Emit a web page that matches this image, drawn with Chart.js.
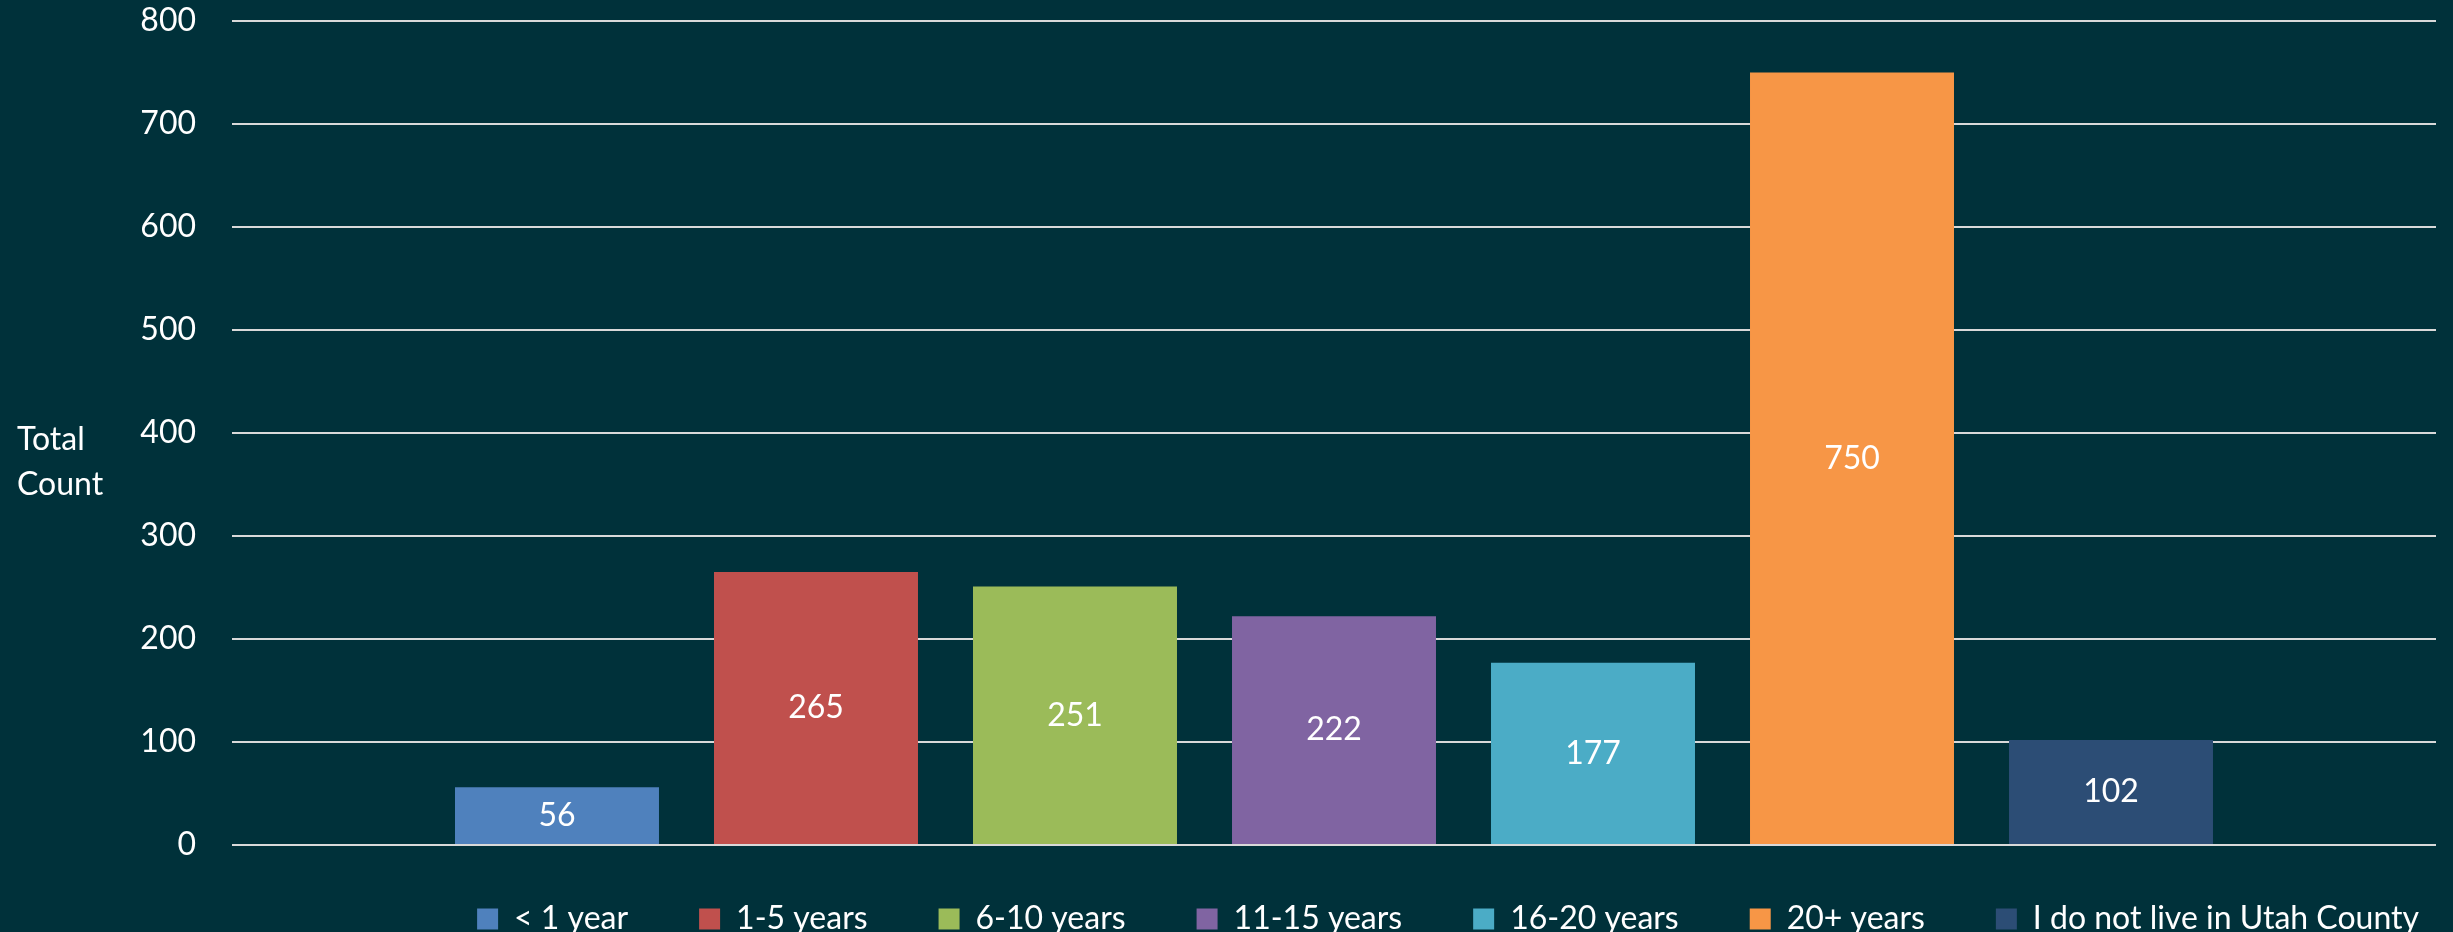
<!DOCTYPE html>
<html>
<head>
<meta charset="utf-8">
<script src="https://cdn.jsdelivr.net/npm/chart.js@4"></script>
<style>
  html, body { margin: 0; padding: 0; background: #00313a; }
  #caja { width: 2453px; height: 932px; position: relative; }
</style>
</head>
<body>
<div id="caja"><canvas id="barras"></canvas></div>
<script>
// Datos del grafico
const categorias = ['< 1 year', '1-5 years', '6-10 years', '11-15 years', '16-20 years', '20+ years', 'I do not live in Utah County'];
const valores = [56, 265, 251, 222, 177, 750, 102];
const colores = ['#4f81bd', '#c0504d', '#9bbb59', '#8064a2', '#4bacc6', '#f79646', '#2c4d75'];
const marcasY = [0, 100, 200, 300, 400, 500, 600, 700, 800];
const tituloY = ['Total', 'Count'];

const fuente = { family: 'Lato', size: 32 };

// Etiquetas de valor en el centro de cada barra
const etiquetasBarras = {
  id: 'etiquetasBarras',
  afterDatasetsDraw(chart) {
    const ctx = chart.ctx;
    ctx.save();
    ctx.fillStyle = '#ffffff';
    ctx.font = '32px Lato';
    ctx.textAlign = 'center';
    ctx.textBaseline = 'middle';
    chart.data.datasets.forEach((ds, i) => {
      chart.getDatasetMeta(i).data.forEach((barra, j) => {
        ctx.fillText(ds.data[j], barra.x, (barra.y + barra.base) / 2);
      });
    });
    ctx.restore();
  }
};

// Titulo horizontal del eje Y, a la izquierda
const tituloEje = {
  id: 'tituloEje',
  afterDraw(chart) {
    const ctx = chart.ctx;
    ctx.save();
    ctx.fillStyle = '#ffffff';
    ctx.font = '32px Lato';
    ctx.textAlign = 'left';
    ctx.textBaseline = 'alphabetic';
    ctx.fillText(tituloY[0], 17, 450);
    ctx.fillText(tituloY[1], 17, 495);
    ctx.restore();
  }
};

// Mover la leyenda a su sitio (la parte de abajo se queda, si no la recorta)
const ajusteLeyenda = {
  id: 'ajusteLeyenda',
  afterLayout(chart) {
    const l = chart.legend;
    l.top -= 13;
    l.left += 54; l.right += 54;
  }
};

new Chart(document.getElementById('barras'), {
  type: 'bar',
  data: {
    labels: [''],
    datasets: categorias.map((c, i) => ({
      label: c,
      data: [valores[i]],
      backgroundColor: colores[i],
      categoryPercentage: 0.8226,
      barPercentage: 0.7876
    }))
  },
  options: {
    responsive: true,
    maintainAspectRatio: false,
    animation: false,
    layout: { padding: { left: 0, right: 17, top: 21, bottom: 0 } },
    scales: {
      x: { display: false },
      y: {
        min: 0,
        max: 800,
        afterFit(scale) {
          scale.width = 232;
          scale.paddingTop = 0;
          scale.paddingBottom = 0;
        },
        afterBuildTicks(scale) { scale.ticks = marcasY.map(v => ({ value: v })); },
        border: { display: false },
        grid: { color: '#d9d9d9', lineWidth: 2, drawTicks: false },
        ticks: { color: '#ffffff', font: fuente, padding: 36 }
      }
    },
    plugins: {
      legend: {
        position: 'bottom',
        align: 'end',
        maxHeight: 87,
        labels: { color: '#ffffff', font: fuente, boxWidth: 21, boxHeight: 21, padding: 71 }
      },
      tooltip: { enabled: false }
    }
  },
  plugins: [etiquetasBarras, tituloEje, ajusteLeyenda]
});
</script>
</body>
</html>
